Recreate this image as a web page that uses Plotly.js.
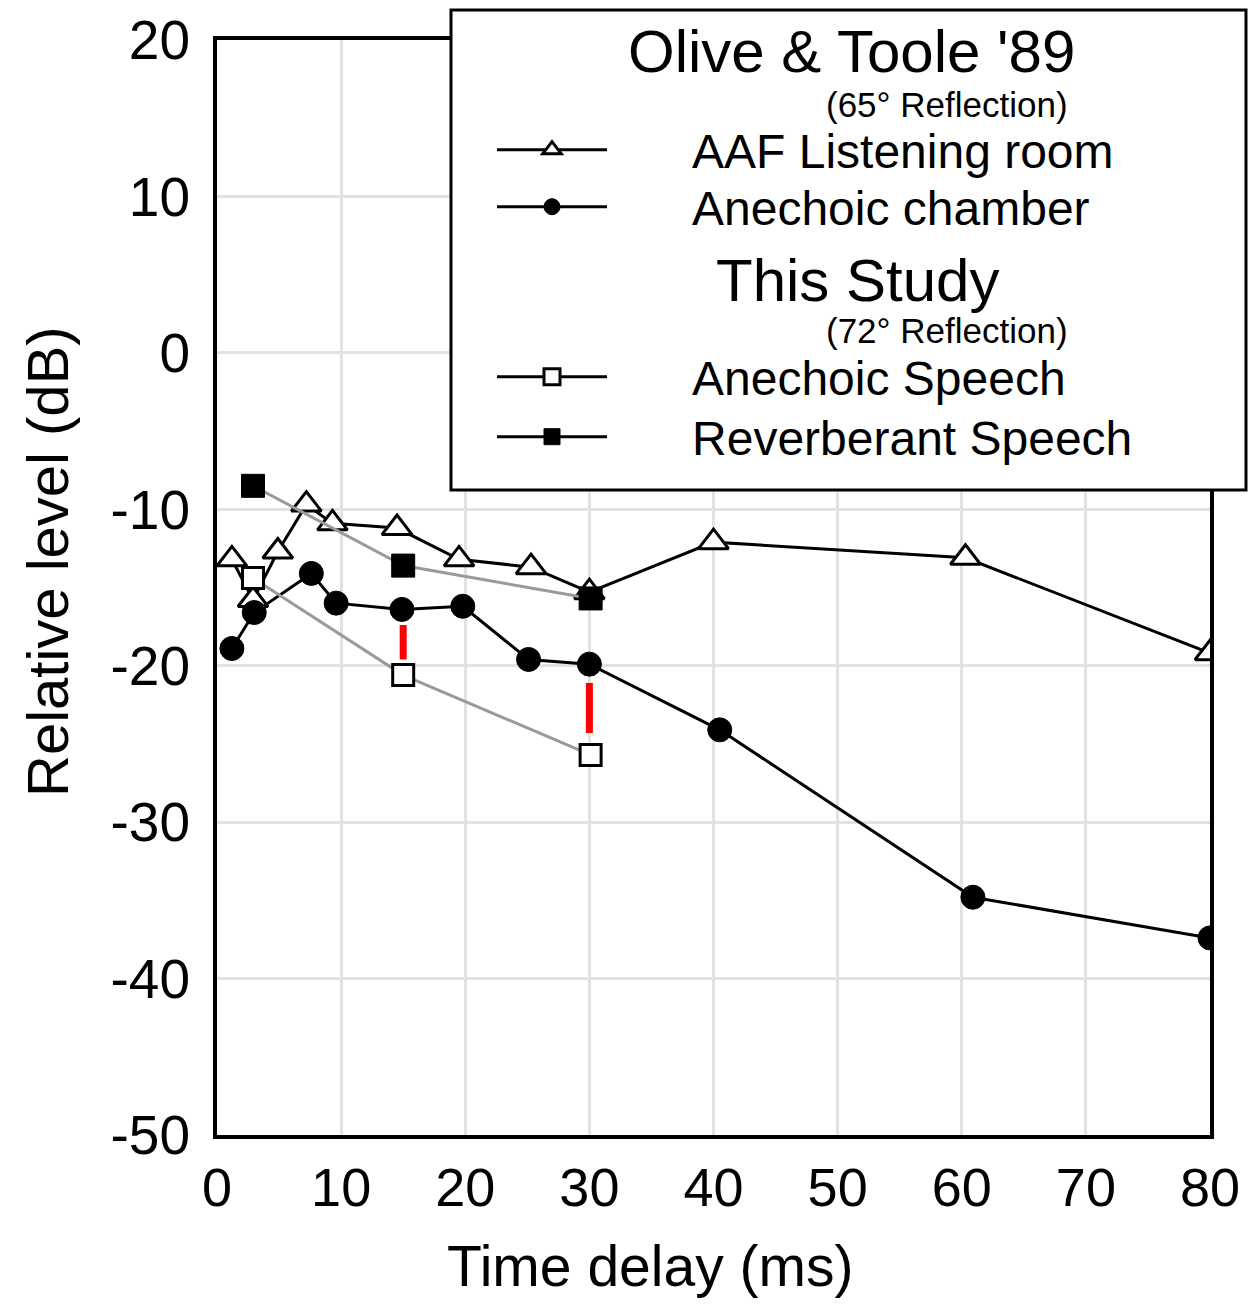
<!DOCTYPE html>
<html>
<head>
<meta charset="utf-8">
<script src="https://cdn.plot.ly/plotly-3.0.1.min.js"></script>
<style>html,body{margin:0;padding:0;background:#fff;}#chart{width:1249px;height:1304px;}</style>
</head>
<body>
<div id="chart"></div>
<script>
// ---- data ----
const aafX = [1.2, 2.9, 4.9, 7.2, 9.3, 14.5, 19.5, 25.3, 30, 40, 60.3, 80];
const aafY = [-13.2, -15.8, -12.7, -9.7, -10.9, -11.2, -13.2, -13.7, -15.3, -12.1, -13.1, -19.2];
const anechX = [1.2, 3, 7.6, 9.6, 14.9, 19.8, 25.1, 30, 40.5, 60.9, 80];
const anechY = [-18.9, -16.6, -14.1, -16.0, -16.4, -16.2, -19.6, -19.9, -24.1, -34.8, -37.4];
const speechX = [2.9, 15, 30.1];
const anechSpeechY = [-14.4, -20.6, -25.7];
const reverbSpeechY = [-8.5, -13.6, -15.7];
const diffX = [15, 30];
const diffTop = [-17.4, -21.1];
const diffBottom = [-19.6, -24.3];
const xTicks = [0, 10, 20, 30, 40, 50, 60, 70, 80];
const yTicks = [20, 10, 0, -10, -20, -30, -40, -50];
const yTickText = ['20', '10', '0', '-10', '-20', '-30', '-40', '-50'];
const seriesNames = ['AAF Listening room', 'Anechoic chamber', 'Anechoic Speech', 'Reverberant Speech'];
const groupTitles = ["Olive &amp; Toole '89", 'This Study'];
const groupSubtitles = ['(65° Reflection)', '(72° Reflection)'];
const xTitle = 'Time delay (ms)';
const yTitle = 'Relative level (dB)';

const FONT = 'Liberation Sans, Arial, Helvetica, sans-serif';
const PAD = '\u00A0'.repeat(6);

// red difference bars
const dxs = [], dys = [];
diffX.forEach((x, i) => { dxs.push(x, x, null); dys.push(diffTop[i], diffBottom[i], null); });

const traces = [
  { x: aafX, y: aafY, name: PAD + seriesNames[0], legend: 'legend', mode: 'lines+markers',
    line: { color: '#000', width: 3 },
    marker: { symbol: 'triangle-up', size: 26, color: '#fff', line: { color: '#000', width: 3 } } },
  { x: anechX, y: anechY, name: PAD + seriesNames[1], legend: 'legend2', mode: 'lines+markers',
    line: { color: '#000', width: 3 },
    marker: { symbol: 'circle', size: 24, color: '#000', line: { color: '#000', width: 1 } } },
  { x: speechX, y: anechSpeechY, name: seriesNames[2], showlegend: false, mode: 'lines+markers',
    line: { color: '#9a9a9a', width: 3 },
    marker: { symbol: 'square', size: 21, color: '#fff', line: { color: '#000', width: 3 } } },
  { x: speechX, y: reverbSpeechY, name: seriesNames[3], showlegend: false, mode: 'lines+markers',
    line: { color: '#9a9a9a', width: 3 },
    marker: { symbol: 'square', size: 23, color: '#000', line: { color: '#000', width: 1 } } },
  // legend proxies (black sample line like in the reference legend)
  { x: [null], y: [null], name: PAD + seriesNames[2], legend: 'legend3', mode: 'lines+markers',
    line: { color: '#000', width: 3 },
    marker: { symbol: 'square', size: 16, color: '#fff', line: { color: '#000', width: 3 } } },
  { x: [null], y: [null], name: PAD + seriesNames[3], legend: 'legend4', mode: 'lines+markers',
    line: { color: '#000', width: 3 },
    marker: { symbol: 'square', size: 16, color: '#000', line: { color: '#000', width: 1 } } },
  { x: dxs, y: dys, mode: 'lines', showlegend: false, hoverinfo: 'skip',
    line: { color: '#ff0000', width: 7 } }
];

const L = 217, R = 1210, T = 40, B = 1135;
const px = (x) => (x - L) / (R - L);
const py = (y) => (B - y) / (B - T);

function leg(yc) {
  return {
    x: px(492), y: py(yc), xanchor: 'left', yanchor: 'middle',
    bgcolor: 'rgba(0,0,0,0)', borderwidth: 0,
    font: { size: 48, family: FONT, color: '#000' },
    itemwidth: 110, itemsizing: 'trace'
  };
}

const ann = (text, x, y, size, extra) => Object.assign({
  text, xref: 'paper', yref: 'paper', x: px(x), y: py(y), showarrow: false,
  xanchor: 'center', yanchor: 'middle', font: { size, family: FONT, color: '#000' }
}, extra || {});

const layout = {
  width: 1249, height: 1304,
  margin: { l: L, r: 1249 - R, t: T, b: 1304 - B, pad: 0 },
  paper_bgcolor: '#fff', plot_bgcolor: '#fff',
  font: { family: FONT, color: '#000' },
  showlegend: true,
  xaxis: {
    range: [0, 80], tickvals: xTicks, ticktext: xTicks.map(String),
    showgrid: true, gridcolor: '#e2e2e2', gridwidth: 3, zeroline: false,
    showline: true, linecolor: '#000', linewidth: 4, mirror: true,
    ticks: '', ticklabelstandoff: 2, tickfont: { size: 54, family: FONT },
    automargin: false
  },
  yaxis: {
    range: [-50, 20], tickvals: yTicks, ticktext: yTickText,
    showgrid: true, gridcolor: '#e2e2e2', gridwidth: 3, zeroline: false,
    showline: true, linecolor: '#000', linewidth: 4, mirror: true,
    ticks: '', ticklabelstandoff: 12, tickfont: { size: 55, family: FONT },
    automargin: false
  },
  legend: leg(150),
  legend2: leg(207),
  legend3: leg(377),
  legend4: leg(437),
  shapes: [
    { type: 'rect', xref: 'paper', yref: 'paper', layer: 'above',
      x0: px(451), x1: px(1246), y0: py(490), y1: py(10),
      fillcolor: '#fff', line: { color: '#000', width: 3 } }
  ],
  annotations: [
    ann(groupTitles[0], 851, 52, 60),
    ann(groupSubtitles[0], 947, 104, 35),
    ann(groupTitles[1], 857, 280, 60),
    ann(groupSubtitles[1], 947, 330, 35),
    ann(xTitle, 650, 1266, 57),
    ann(yTitle, 47, 562, 58, { textangle: -90 })
  ]
};

Plotly.newPlot('chart', traces, layout, { staticPlot: true, displayModeBar: false });
</script>
</body>
</html>
